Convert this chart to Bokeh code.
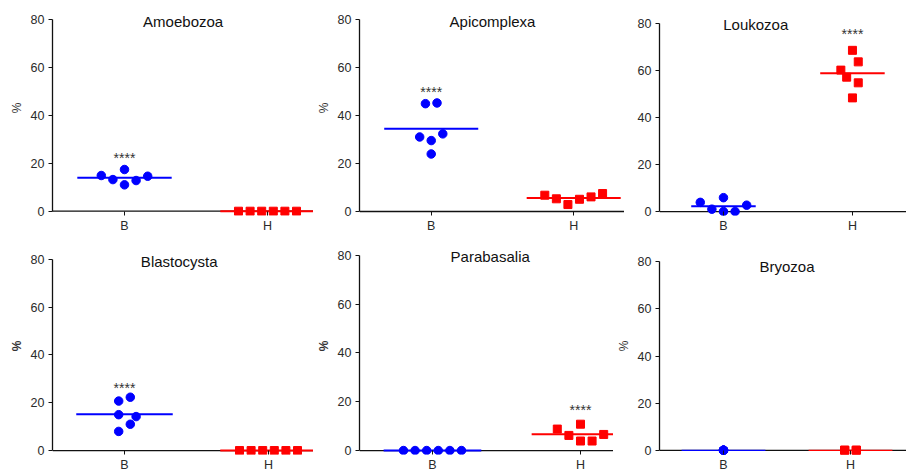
import numpy as np
from bokeh.plotting import figure
from bokeh.layouts import column, row
from bokeh.models import FixedTicker, Span, Label
from bokeh.embed import file_html
from bokeh.resources import INLINE

# ---------------- data ----------------
categories = ["B", "H"]
y_ticks = [0, 20, 40, 60, 80]
titles = ["Amoebozoa", "Apicomplexa", "Loukozoa", "Blastocysta", "Parabasalia", "Bryozoa"]

amoebozoa_B = [14.9, 13.2, 17.4, 11.0, 12.8, 14.6]
amoebozoa_H = [0.0, 0.0, 0.0, 0.0, 0.0, 0.0]
apicomplexa_B = [45.0, 45.3, 31.1, 29.6, 32.4, 24.0]
apicomplexa_H = [6.8, 5.3, 2.9, 5.1, 6.1, 7.5]
loukozoa_B = [3.9, 1.0, 5.9, 0.0, 0.0, 2.7]
loukozoa_H = [68.5, 63.6, 60.1, 57.1, 54.7, 48.3]
blastocysta_B = [20.7, 22.3, 15.0, 14.2, 11.0, 8.0]
blastocysta_H = [0.0, 0.0, 0.0, 0.0, 0.0, 0.0]
parabasalia_B = [0.0, 0.0, 0.0, 0.0, 0.0, 0.0]
parabasalia_H = [8.8, 6.2, 10.8, 3.9, 3.9, 6.6]
bryozoa_B = [0.0, 0.0, 0.0, 0.0, 0.0, 0.0]
bryozoa_H = [0.0, 0.0, 0.0, 0.0, 0.0, 0.0]

significant_group = ["B", "B", "H", "B", "H", None]
stars = "****"

series = [
    (amoebozoa_B, amoebozoa_H),
    (apicomplexa_B, apicomplexa_H),
    (loukozoa_B, loukozoa_H),
    (blastocysta_B, blastocysta_H),
    (parabasalia_B, parabasalia_H),
    (bryozoa_B, bryozoa_H),
]

# ---------------- layout / style ----------------
FONT = "Liberation Sans"
BLUE = "#0000FF"
RED = "#FF0000"
STEP_PX = 11.6

# horizontal spread (in marker steps) for the scatter points
spread = [
    ([-2, -1, 0, 0, 1, 2], [-2.5, -1.5, -0.5, 0.5, 1.5, 2.5]),
    ([-0.5, 0.5, -1, 0, 1, 0], [-2.5, -1.5, -0.5, 0.5, 1.5, 2.5]),
    ([-2, -1, 0, 0, 1, 2], [0, 0.5, -1, -0.5, 0.5, 0]),
    ([-0.5, 0.5, -0.5, 1, 0.5, -0.5], [-2.5, -1.5, -0.5, 0.5, 1.5, 2.5]),
    ([-2.5, -1.5, -0.5, 0.5, 1.5, 2.5], [-2, -1, 0, 0, 1, 2]),
    ([0, 0, 0, 0, 0, 0], [-0.5, -0.5, -0.5, 0.5, 0.5, 0.5]),
]

cfg = [
    dict(w=313, h=237, bl=52, bb=22, xr=(-0.5035, 1.3217), yr=(-1.79, 87.93), ppu=143,
         hw=0.33, tx=0.41, ty=79.2, sy=22.0, lab=True, bold=False, lw=2),
    dict(w=311, h=237, bl=45, bb=22, xr=(-0.5035, 1.3566), yr=(-1.67, 88.06), ppu=143,
         hw=0.33, tx=0.43, ty=79.2, sy=50.0, lab=True, bold=False, lw=2),
    dict(w=282, h=237, bl=35, bb=20, xr=(-0.496, 1.419), yr=(-1.68, 89.68), ppu=129,
         hw=0.25, tx=0.25, ty=79.4, sy=75.5, lab=False, bold=False, lw=2),
    dict(w=313, h=237, bl=52, bb=18, xr=(-0.5, 1.3125), yr=(-1.66, 89.12), ppu=144,
         hw=0.335, tx=0.38, ty=79.0, sy=26.3, lab=True, bold=True, lw=2),
    dict(w=300, h=237, bl=46, bb=18, xr=(-0.493, 1.223), yr=(-1.62, 87.31), ppu=148,
         hw=0.33, tx=0.39, ty=79.5, sy=16.8, lab=True, bold=True, lw=2),
    dict(w=293, h=237, bl=46, bb=16, xr=(-0.504, 1.441), yr=(-1.79, 90.29), ppu=127,
         hw=0.33, tx=0.5, ty=77.8, sy=None, lab=True, bold=False, lw=1.2),
]


def make_panel(i):
    c = cfg[i]
    vals_b, vals_h = series[i]
    sp_b, sp_h = spread[i]
    p = figure(width=c["w"], height=c["h"], output_backend="svg", toolbar_location=None,
               x_range=c["xr"], y_range=c["yr"],
               min_border_left=c["bl"], min_border_right=0, min_border_top=0,
               min_border_bottom=c["bb"])
    p.outline_line_color = None
    p.grid.visible = False
    p.background_fill_color = "white"
    p.border_fill_color = "white"

    ya = p.yaxis[0]
    ya.ticker = FixedTicker(ticks=y_ticks)
    ya.bounds = (0, 80)
    ya.major_tick_in = 0
    ya.major_tick_out = 4
    ya.minor_tick_line_color = None
    ya.major_label_standoff = 4
    ya.axis_line_color = "#111111"
    ya.axis_line_width = 1.3
    ya.major_tick_line_color = "#111111"
    ya.major_label_text_font = FONT
    ya.major_label_text_font_size = "12.5px"
    ya.major_label_text_color = "#2a2a2a"
    if c["lab"]:
        ya.axis_label = "%"
        ya.axis_label_text_font = FONT
        ya.axis_label_text_font_size = "12px"
        ya.axis_label_text_font_style = "bold" if c["bold"] else "normal"
        ya.axis_label_text_color = "#333333"
        ya.axis_label_standoff = 4

    xa = p.xaxis[0]
    xa.ticker = FixedTicker(ticks=[0, 1])
    xa.major_label_overrides = {0: categories[0], 1: categories[1]}
    xa.axis_line_color = None
    xa.major_tick_in = 4
    xa.major_tick_out = 0
    xa.major_tick_line_color = "#111111"
    xa.minor_tick_line_color = None
    xa.major_label_standoff = 3
    xa.major_label_text_font = FONT
    xa.major_label_text_font_size = "12.5px"
    xa.major_label_text_color = "#2a2a2a"

    base = Span(location=0, dimension="width", line_color="#111111", line_width=1.3,
                level="underlay")
    p.add_layout(base)

    step = STEP_PX / c["ppu"]
    xb = [0 + s * step for s in sp_b]
    xh = [1 + s * step for s in sp_h]

    mb = float(np.mean(vals_b))
    mh = float(np.mean(vals_h))
    p.line([0 - c["hw"], 0 + c["hw"]], [mb, mb], line_color=BLUE, line_width=c["lw"])
    p.line([1 - c["hw"], 1 + c["hw"]], [mh, mh], line_color=RED, line_width=c["lw"])

    p.scatter(xb, vals_b, marker="circle", size=8.5, fill_color=BLUE, line_color=BLUE)
    p.scatter(xh, vals_h, marker="square", size=8, fill_color=RED, line_color=RED)

    p.add_layout(Label(x=c["tx"], y=c["ty"], text=titles[i], text_font=FONT,
                       text_font_size="15px", text_color="#111111",
                       text_align="center", text_baseline="middle"))
    g = significant_group[i]
    if g is not None:
        gx = categories.index(g)
        p.add_layout(Label(x=gx, y=c["sy"], text=stars, text_font=FONT,
                           text_font_size="14px", text_color="#333333",
                           text_align="center", text_baseline="middle"))
    return p


panels = [make_panel(i) for i in range(6)]
layout = column(row(*panels[:3], spacing=0), row(*panels[3:], spacing=0), spacing=0)

open("out.html", "w").write(file_html(layout, INLINE))
